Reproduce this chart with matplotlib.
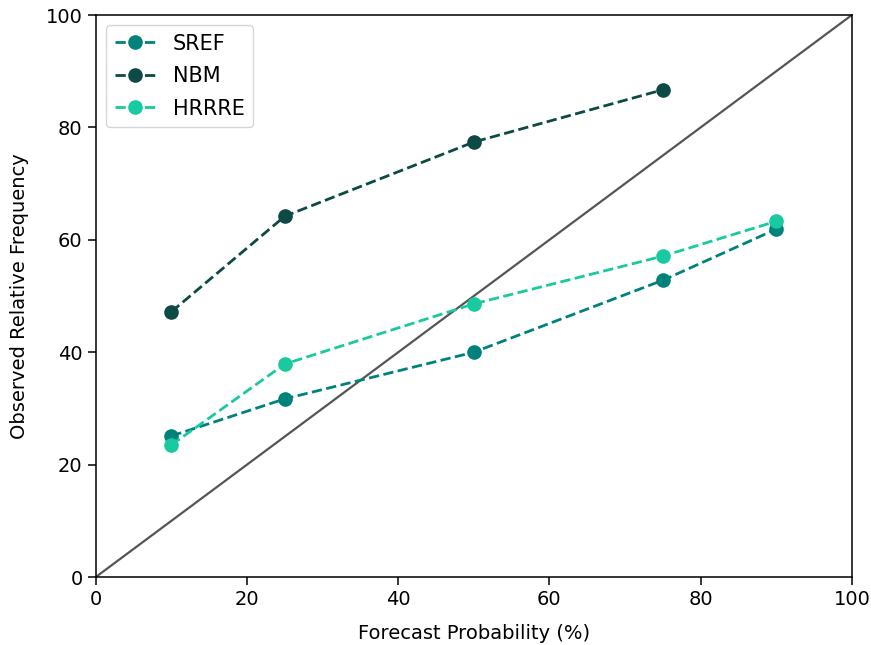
import matplotlib
matplotlib.use("Agg")
import matplotlib.pyplot as plt

forecast_prob = [10, 25, 50, 75, 90]
sref = [25.1, 31.7, 40.0, 52.8, 61.9]
nbm_prob = [10, 25, 50, 75]
nbm = [47.2, 64.2, 77.4, 86.7]
hrrre = [23.5, 37.9, 48.6, 57.1, 63.3]

plt.rcParams['font.family'] = ['DejaVu Sans']
fig = plt.figure(figsize=(8.71, 6.45), dpi=100)
ax = fig.add_axes([0.110, 0.1054, 0.868, 0.8713])

ax.plot([0, 100], [0, 100], color='#555555', lw=1.6, zorder=1)
ax.plot(forecast_prob, sref, '--o', color='#00827c', lw=2, ms=9.5, label='SREF', zorder=3)
ax.plot(nbm_prob, nbm, '--o', color='#0d4a45', lw=2, ms=9.5, label='NBM', zorder=3)
ax.plot(forecast_prob, hrrre, '--o', color='#19c9a0', lw=2, ms=9.5, label='HRRRE', zorder=3)

ax.set_xlim(0, 100)
ax.set_ylim(0, 100)
for s in ax.spines.values():
    s.set_linewidth(1.1)
ax.tick_params(labelsize=14, length=6, width=1.1)
ax.set_xlabel('Forecast Probability (%)', fontsize=14, labelpad=11)
ax.set_ylabel('Observed Relative Frequency', fontsize=14, labelpad=12)
ax.legend(loc='upper left', fontsize=15, labelspacing=0.6)

fig.savefig('out.png', dpi=100)
